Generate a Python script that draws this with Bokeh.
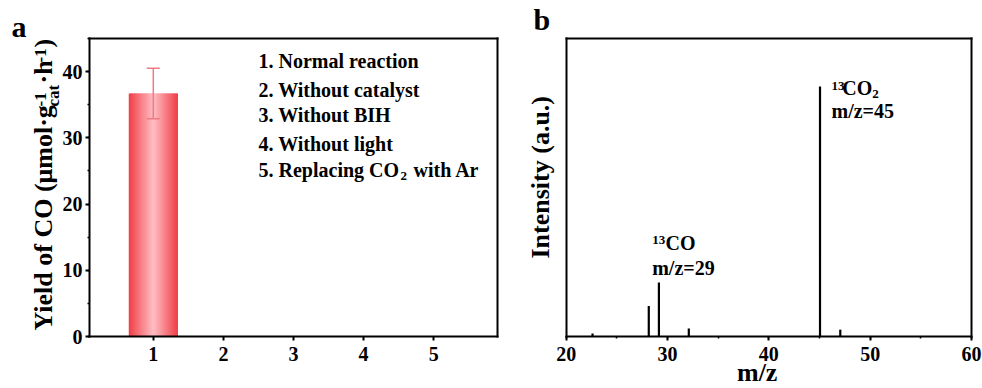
import math
from bokeh.plotting import figure
from bokeh.layouts import row
from bokeh.models import (Label, ColumnDataSource, Whisker, TeeHead, FixedTicker,
                          SingleIntervalTicker, LinearAxis, Range1d)
from bokeh.embed import file_html
from bokeh.resources import INLINE

# ---- data: panel a (CO yield under control conditions) ----
conditions = [1, 2, 3, 4, 5]
co_yield = [36.7, 0.0, 0.0, 0.0, 0.0]
co_err = [3.8, 0.0, 0.0, 0.0, 0.0]
condition_names = ["1. Normal reaction", "2. Without catalyst", "3. Without BIH",
                   "4. Without light", "5. Replacing CO"]

# ---- data: panel b (mass spectrum of the 13CO2 labelling run) ----
mz = [22.6, 28.15, 29.15, 32.1, 45.05, 47.05]
intensity = [0.010, 0.102, 0.181, 0.027, 0.839, 0.023]

FONT = "Liberation Serif"
H = 388
V = math.pi / 2
# Label anchors sit a little below the alphabetic baseline; lift them by this
# fraction of the font size so the given coordinate is the real baseline.
BASE_LIFT = 0.38


def make_ranges(fig_w, box, xlim, ylim):
    """Ranges such that the data box (xlim, ylim) lands on the pixel box
    (left, top, right, bottom) inside a figure whose frame fills it."""
    left, top, right, bottom = box
    kx = (xlim[1] - xlim[0]) / (right - left)
    ky = (ylim[1] - ylim[0]) / (bottom - top)
    xr = Range1d(xlim[0] - left * kx, xlim[1] + (fig_w - right) * kx)
    yr = Range1d(ylim[0] - (H - bottom) * ky, ylim[1] + top * ky)
    return xr, yr


def add_text(p, x, y, text, size, angle=0.0, align="left"):
    lift = BASE_LIFT * size
    if angle:
        x -= lift
    else:
        y += lift
    p.add_layout(Label(x=x, y=y, x_units="screen", y_units="screen", text=text,
                       text_font=FONT, text_font_style="bold",
                       text_font_size=f"{size}px", text_color="black",
                       angle=angle, text_align=align, text_baseline="alphabetic"))


def style_axis(ax):
    ax.axis_line_width = 2
    ax.axis_line_cap = "square"
    ax.major_tick_line_width = 2
    ax.minor_tick_line_width = 1.5
    ax.major_tick_in = 0
    ax.major_tick_out = 4
    ax.minor_tick_in = 0
    ax.minor_tick_out = 2
    ax.major_label_text_font = FONT
    ax.major_label_text_font_style = "bold"
    ax.major_label_text_font_size = "20px"
    ax.major_label_text_color = "black"


def box_axis(p, side, loc, bounds):
    ax = LinearAxis(fixed_location=loc, bounds=bounds, axis_line_width=2,
                    axis_line_cap="square",
                    major_tick_line_color=None, minor_tick_line_color=None,
                    major_label_text_color=None)
    p.add_layout(ax, side)


def base_figure(w, xr, yr):
    p = figure(width=w, height=H, output_backend="svg", toolbar_location=None,
               title=None, x_range=xr, y_range=yr,
               min_border_left=0, min_border_right=0, min_border_top=0, min_border_bottom=0)
    p.outline_line_color = None
    p.grid.visible = False
    for ax in p.axis:
        style_axis(ax)
    return p


# ================= panel a =================
XA, YA = (0.09, 5.91), (0, 45)
xr, yr = make_ranges(510, (89, 38, 497, 336), XA, YA)
pa = base_figure(510, xr, yr)
pa.xaxis.fixed_location = YA[0]
pa.xaxis.bounds = XA
pa.xaxis.ticker = FixedTicker(ticks=conditions)
pa.xaxis.minor_tick_line_color = None
pa.xaxis.major_label_standoff = 6
pa.yaxis.fixed_location = XA[0]
pa.yaxis.bounds = YA
pa.yaxis.ticker = SingleIntervalTicker(interval=10, num_minor_ticks=2)
pa.yaxis.major_label_standoff = 3
box_axis(pa, "above", YA[1], XA)
box_axis(pa, "right", XA[1], YA)

# bars shaded red at the edges, pale pink in the middle, built from thin slices
bar_w = 0.7
n_slices = 40
edge = (240, 62, 70)
center = (255, 190, 196)
dw = bar_w / n_slices
ql, qr, qt, qc = [], [], [], []
for c, v in zip(conditions, co_yield):
    for i in range(n_slices):
        u = (i + 0.5) / n_slices
        t = abs(2 * u - 1)
        col = tuple(int(round(center[k] + (edge[k] - center[k]) * t)) for k in range(3))
        left = c - bar_w / 2 + i * dw
        ql.append(left)
        qr.append(min(left + 2 * dw, c + bar_w / 2))
        qt.append(v)
        qc.append("#%02x%02x%02x" % col)
pa.quad(left=ql, right=qr, top=qt, bottom=0, fill_color=qc, line_color=None)

err_src = ColumnDataSource(dict(
    x=[c for c, e in zip(conditions, co_err) if e > 0],
    upper=[v + e for v, e in zip(co_yield, co_err) if e > 0],
    lower=[v - e for v, e in zip(co_yield, co_err) if e > 0]))
pa.add_layout(Whisker(source=err_src, base="x", upper="upper", lower="lower",
                      dimension="height", level="overlay",
                      line_color="#ef7a84", line_width=1.5,
                      upper_head=TeeHead(size=13, line_color="#ef7a84", line_width=1.5),
                      lower_head=TeeHead(size=13, line_color="#ef7a84", line_width=1.5)))

# list of the five conditions
cond_y = [319.7, 291.3, 266.3, 237.0, 211.3]
for name, yb in zip(condition_names, cond_y):
    add_text(pa, 258, yb, name, 20)
add_text(pa, 400, cond_y[4] - 3.5, "2", 13)
add_text(pa, 413, cond_y[4], "with Ar", 20)

# rotated y-axis title with super/subscripts
bx = 53
add_text(pa, bx, 58, "Yield of CO (\u03bcmol\u00b7g", 26, angle=V)
add_text(pa, bx - 7, 282, "-1", 17, angle=V)
add_text(pa, bx + 6, 282, "cat", 17, angle=V)
add_text(pa, bx, 305, "\u00b7h", 26, angle=V)
add_text(pa, bx - 7, 326, "-1", 17, angle=V)
add_text(pa, bx, 341, ")", 26, angle=V)

add_text(pa, 11, 351, "a", 30)

# ================= panel b =================
XB, YB = (20, 60), (0, 1)
xr, yr = make_ranges(472, (55.7, 38, 461, 336), XB, YB)
pb = base_figure(472, xr, yr)
pb.xaxis.fixed_location = YB[0]
pb.xaxis.bounds = XB
pb.xaxis.ticker = SingleIntervalTicker(interval=10, num_minor_ticks=2)
pb.xaxis.major_label_standoff = 6
pb.yaxis.fixed_location = XB[0]
pb.yaxis.bounds = YB
pb.yaxis.major_tick_line_color = None
pb.yaxis.minor_tick_line_color = None
pb.yaxis.major_label_text_color = None
box_axis(pb, "above", YB[1], XB)
box_axis(pb, "right", XB[1], YB)

pb.segment(x0=mz, y0=[0] * len(mz), x1=mz, y1=intensity, line_color="black", line_width=2.2)

add_text(pb, 141.7, 144, "13", 13)
add_text(pb, 155, 138, "CO", 20)
add_text(pb, 141.7, 113, "m/z=29", 20)

add_text(pb, 321, 298, "13", 13)
add_text(pb, 331.7, 293, "CO", 20)
add_text(pb, 361.7, 289.7, "2", 13)
add_text(pb, 321, 270, "m/z=45", 20)

add_text(pb, 39.5, 130, "Intensity (a.u.)", 26, angle=V)
add_text(pb, 246.7, 6, "m/z", 26, align="center")
add_text(pb, 23, 358, "b", 30)

layout = row(pa, pb)
open("out.html", "w").write(file_html(layout, INLINE))
